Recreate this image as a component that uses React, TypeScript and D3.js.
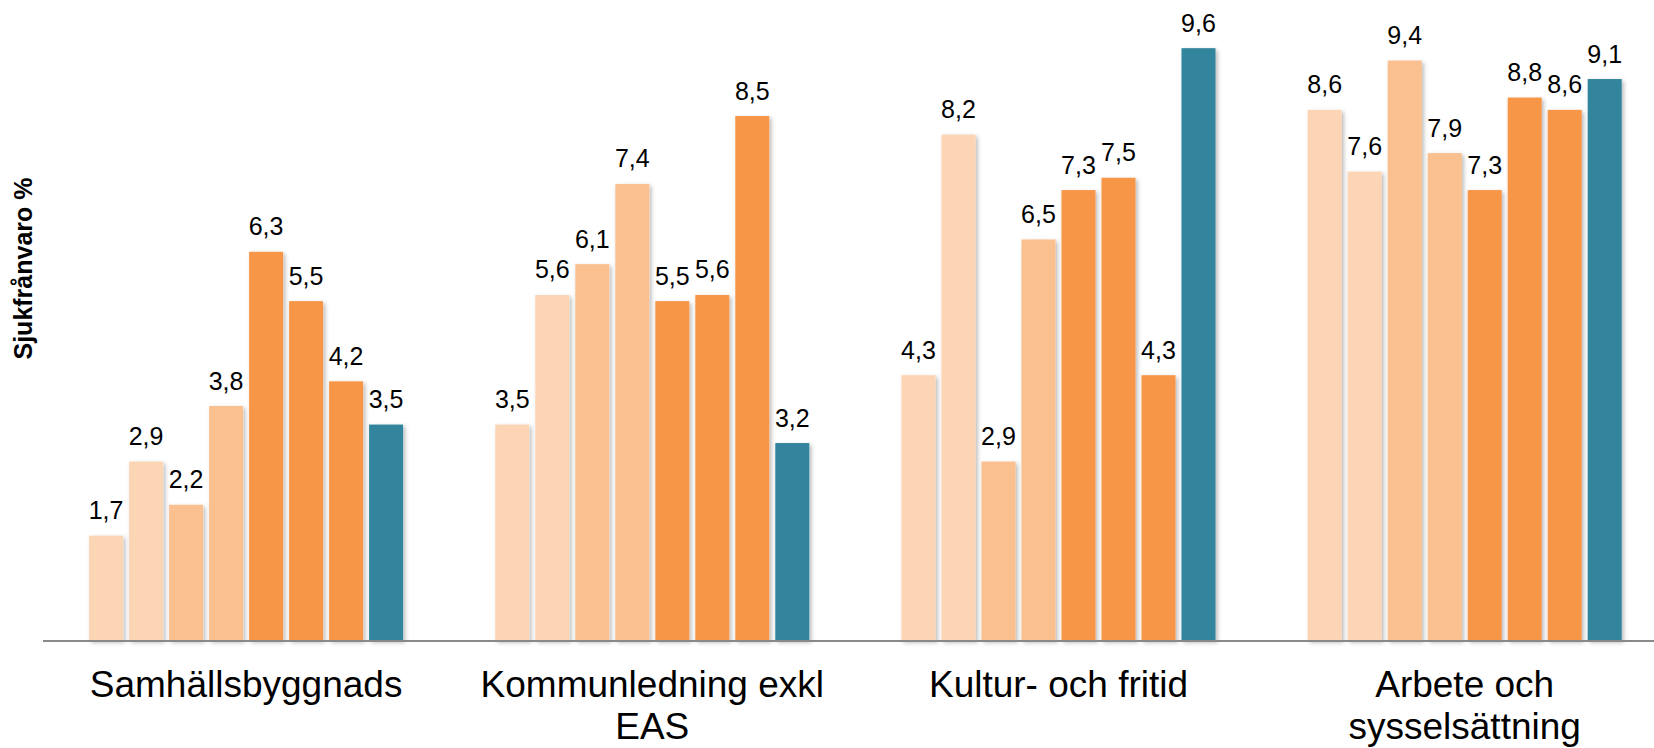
import React from "react";
import * as d3 from "d3";

const categories = ["Samhällsbyggnads", "Kommunledning exkl EAS", "Kultur- och fritid", "Arbete och sysselsättning"];
const categoryLines = [["Samhällsbyggnads"], ["Kommunledning exkl", "EAS"], ["Kultur- och fritid"], ["Arbete och", "sysselsättning"]];
const seriesKeys = ["s1", "s2", "s3", "s4", "s5", "s6", "s7", "s8"];
const seriesColors = ["#FCD5B5", "#FCD5B5", "#FAC090", "#FAC090", "#F79646", "#F79646", "#F79646", "#31859C"];
const samhallsbyggnads = [1.7, 2.9, 2.2, 3.8, 6.3, 5.5, 4.2, 3.5];
const kommunledning = [3.5, 5.6, 6.1, 7.4, 5.5, 5.6, 8.5, 3.2];
const kulturFritid = [4.3, 8.2, 2.9, 6.5, 7.3, 7.5, 4.3, 9.6];
const arbeteSysselsattning = [8.6, 7.6, 9.4, 7.9, 7.3, 8.8, 8.6, 9.1];
const groupValues = [samhallsbyggnads, kommunledning, kulturFritid, arbeteSysselsattning];
const yTitle = "Sjukfrånvaro %";

const W = 1654;
const H = 748;
const baseY = 640.5;
const groupStep = 406.2;
const left = 43;

export default function App() {
  const x0 = d3.scaleBand<string>().domain(categories).range([left, left + groupStep * categories.length]).padding(0);
  const inner = 314;
  const x1 = d3
    .scaleBand<string>()
    .domain(seriesKeys)
    .range([(groupStep - inner) / 2, (groupStep + inner) / 2])
    .paddingInner(0.15)
    .paddingOuter(0);
  const y = d3.scaleLinear().domain([0, 10]).range([baseY, baseY - 617]);
  const fmt = (v: number) => d3.format(".1f")(v).replace(".", ",");
  const font = "'Liberation Sans', Arial, sans-serif";

  return (
    <svg width={W} height={H} style={{ position: "absolute", left: 0, top: 0, background: "#fff" }}>
      <defs>
        <filter id="shadow" x="-20%" y="-5%" width="140%" height="115%">
          <feDropShadow dx="2" dy="2" stdDeviation="2" floodColor="#000" floodOpacity="0.28" />
        </filter>
      </defs>
      {categories.map((c, gi) => (
        <g key={c} transform={`translate(${x0(c)},0)`}>
          {seriesKeys.map((k, si) => {
            const v = groupValues[gi][si];
            const bx = x1(k)!;
            const bw = x1.bandwidth();
            return (
              <g key={k}>
                <rect
                  x={bx}
                  y={y(v)}
                  width={bw}
                  height={baseY - y(v)}
                  fill={seriesColors[si]}
                  filter="url(#shadow)"
                />
                <text
                  x={bx + bw / 2}
                  y={y(v) - 16.5}
                  textAnchor="middle"
                  fontFamily={font}
                  fontSize={25}
                  fill="#000"
                >
                  {fmt(v)}
                </text>
              </g>
            );
          })}
          {categoryLines[gi].map((line, li) => (
            <text
              key={li}
              x={groupStep / 2}
              y={697 + li * 42}
              textAnchor="middle"
              fontFamily={font}
              fontSize={37}
              fill="#000"
            >
              {line}
            </text>
          ))}
        </g>
      ))}
      <line x1={left} x2={W} y1={641} y2={641} stroke="#898989" strokeWidth={2} />
      <text
        transform={`translate(32,268.5) rotate(-90)`}
        textAnchor="middle"
        fontFamily={font}
        fontWeight="bold"
        fontSize={25}
        fill="#000"
      >
        {yTitle}
      </text>
    </svg>
  );
}
